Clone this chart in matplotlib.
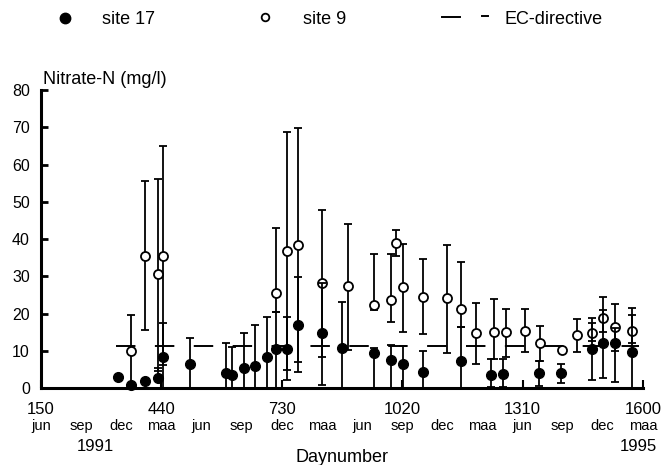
import matplotlib
matplotlib.use('Agg')
import matplotlib.pyplot as plt
from matplotlib import font_manager
from matplotlib.lines import Line2D
from matplotlib.transforms import blended_transform_factory

# welke lettertypen zijn er
names = {f.name for f in font_manager.fontManager.ttflist}
narrow = 'Liberation Sans Narrow' if 'Liberation Sans Narrow' in names else 'Liberation Sans'
plt.rcParams['font.family'] = ['Liberation Sans', 'DejaVu Sans']

# site 17 (gevulde cirkels): dagnummer, gemiddelde, minimum, maximum
days17 = [336, 366, 401, 433, 443, 510, 595, 609, 639, 666, 694, 715, 742, 770, 827,
          875, 953, 992, 1021, 1071, 1162, 1235, 1262, 1350, 1402, 1477, 1504, 1532, 1574]
no3_17 = [3.0, 0.7, 2.0, 2.8, 8.2, 6.4, 3.9, 3.5, 5.5, 5.9, 8.2, 10.4, 10.4, 16.9, 14.7,
          10.8, 9.5, 7.5, 6.4, 4.4, 7.2, 3.5, 3.7, 3.9, 3.9, 10.6, 12.2, 12.0, 9.7]
lo17 = [3.0, 0.7, 2.0, 2.8, 0.0, 0.0, 0.0, 0.0, 0.0, 0.0, 0.0, 0.0, 4.7, 7.1, 0.8,
        0.0, 0.0, 0.0, 0.0, 0.0, 0.0, 0.3, 0.3, 0.5, 1.3, 2.1, 2.6, 1.7, 0.0]
hi17 = [3.0, 0.7, 2.0, 5.3, 17.4, 13.5, 12.2, 10.9, 14.8, 16.9, 19.1, 20.3, 19.1, 29.9, 28.3,
        23.0, 10.8, 11.5, 11.3, 10.0, 16.5, 7.7, 7.7, 7.2, 6.4, 17.4, 21.0, 16.0, 19.6]

# site 9 (open cirkels)
days9 = [366, 401, 433, 443, 715, 742, 770, 827, 889, 953, 992, 1004, 1021, 1071,
         1127, 1162, 1198, 1240, 1270, 1316, 1352, 1405, 1441, 1477, 1504, 1532, 1574]
no3_9 = [10.0, 35.5, 30.6, 35.5, 25.4, 36.8, 38.5, 28.3, 27.4, 22.3, 23.6, 38.8, 27.2, 24.5,
         24.1, 21.2, 14.7, 15.1, 15.1, 15.4, 12.0, 10.2, 14.2, 14.7, 18.7, 16.3, 15.3]
lo9 = [0.0, 15.6, 4.5, 6.2, 20.3, 2.1, 4.4, 8.4, 10.2, 20.9, 17.6, 35.4, 15.1, 14.5,
       9.5, 16.5, 6.4, 7.7, 8.4, 9.6, 7.2, 10.2, 9.6, 12.5, 15.0, 10.0, 12.0]
hi9 = [19.6, 55.7, 56.1, 65.0, 43.0, 68.8, 69.7, 47.8, 43.9, 36.0, 36.0, 42.4, 38.7, 34.6,
       38.4, 33.9, 22.9, 23.8, 21.2, 21.1, 16.6, 10.2, 18.5, 18.9, 24.5, 22.5, 21.4]

# EC-richtlijn (50 mg/l nitraat = 11.3 mg/l N)
ec_days = [330, 1590]
ec_limit = 11.3

day_ticks = [150, 440, 730, 1020, 1310, 1600]
month_ticks = [150, 247, 343, 440, 537, 633, 730, 827, 923, 1020, 1117, 1213, 1310, 1407, 1503, 1600]
month_labels = ['jun', 'sep', 'dec', 'maa'] * 4
year_days = [280, 1590]
year_labels = ['1991', '1995']

W, H = 662, 465
def fx(px):
  return px / W
def fy(px):
  return 1 - px / H

fig = plt.figure(figsize=(W / 100, H / 100), dpi=100)
ax = fig.add_axes([fx(41), (H - 388) / H, (643 - 41) / W, (388 - 90) / H])

ax.errorbar(days9, no3_9,
            yerr=[[v - l for v, l in zip(no3_9, lo9)], [h - v for v, h in zip(no3_9, hi9)]],
            fmt='o', color='black', mfc='white', mec='black', mew=1.3, ms=6.5,
            elinewidth=1.3, capsize=3, capthick=1.3, zorder=3, clip_on=False)
ax.errorbar(days17, no3_17,
            yerr=[[v - l for v, l in zip(no3_17, lo17)], [h - v for v, h in zip(no3_17, hi17)]],
            fmt='o', color='black', mfc='black', mec='black', ms=7,
            elinewidth=1.3, capsize=3, capthick=1.3, zorder=4, clip_on=False)
ax.plot(ec_days, [ec_limit, ec_limit], color='black', lw=1.4, dashes=(10, 10), zorder=2)

ax.set_xlim(150, 1600)
ax.set_ylim(0, 80)
for s in ['top', 'right']:
  ax.spines[s].set_visible(False)
ax.spines['left'].set_linewidth(2.2)
ax.spines['bottom'].set_linewidth(2.2)

ax.set_yticks(range(0, 81, 10))
ax.tick_params(axis='y', direction='in', length=5, width=2, labelsize=11.5, pad=8)
ax.set_xticks(day_ticks)
ax.set_xticklabels([str(d) for d in day_ticks])
ax.tick_params(axis='x', which='major', direction='in', length=6, width=1.5, labelsize=12, pad=10)
ax.xaxis.remove_overlapping_locs = False
ax.set_xticks(month_ticks, minor=True)
ax.set_xticklabels(month_labels, minor=True, fontfamily=narrow)
ax.tick_params(axis='x', which='minor', length=0, labelsize=10.5, pad=22)

trans = blended_transform_factory(ax.transData, fig.transFigure)
for d, lab in zip(year_days, year_labels):
  ax.text(d, fy(451), lab, transform=trans, ha='center', va='baseline', fontsize=12)
fig.text(fx(342), fy(462), 'Daynumber', ha='center', va='baseline', fontsize=13)
fig.text(fx(43), fy(84), 'Nitrate-N (mg/l)', ha='left', va='baseline', fontsize=13)

# legenda bovenaan
fig.add_artist(Line2D([fx(65)], [fy(18)], marker='o', color='black', ms=7.5, ls='none'))
fig.text(fx(102), fy(24), 'site 17', ha='left', va='baseline', fontsize=13)
fig.add_artist(Line2D([fx(265)], [fy(17)], marker='o', color='black', mfc='white', mew=1.3, ms=5.5, ls='none'))
fig.text(fx(303), fy(24), 'site 9', ha='left', va='baseline', fontsize=13)
fig.add_artist(Line2D([fx(442), fx(460)], [fy(17), fy(17)], color='black', lw=1.4))
fig.add_artist(Line2D([fx(482), fx(488)], [fy(16), fy(16)], color='black', lw=1.4))
fig.text(fx(505), fy(24), 'EC-directive', ha='left', va='baseline', fontsize=13)

fig.savefig('out.png', dpi=100)
